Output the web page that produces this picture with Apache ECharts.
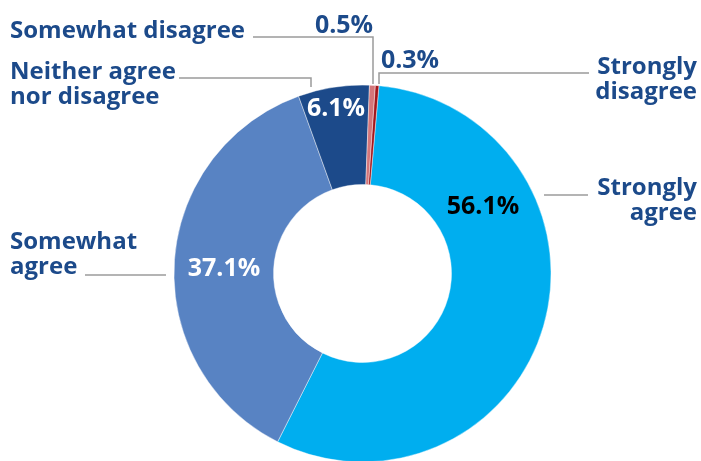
<!DOCTYPE html>
<html>
<head>
<meta charset="utf-8">
<script src="https://cdn.jsdelivr.net/npm/echarts@6/dist/echarts.min.js"></script>
<style>
  html, body { margin: 0; padding: 0; background: #fff; }
  #chart { width: 701px; height: 461px; }
</style>
</head>
<body>
<div id="chart"></div>
<script>
// Survey responses, in clockwise drawing order
const categories = ['Strongly agree', 'Somewhat agree', 'Neither agree nor disagree', 'Somewhat disagree', 'Strongly disagree'];
const displayNames = ['Strongly\nagree', 'Somewhat\nagree', 'Neither agree\nnor disagree', 'Somewhat disagree', 'Strongly\ndisagree'];
const percentages = [56.1, 37.1, 6.1, 0.5, 0.3];
const sliceColors = ['#00AEEF', '#5883C3', '#1C4A8A', '#D4767A', '#A3151B'];
const valueLabelColors = ['#000000', '#ffffff', '#ffffff', '#1C4A8A', '#1C4A8A'];

const FONT = '"Open Sans", "Noto Sans", sans-serif';
const TEXT_BLUE = '#1C4A8A';
const LINE_GREY = '#9b9b9b';
const CENTER = [362.5, 273.5];
const RADIUS = [89, 188.5];

// Placement of the percentage labels
const valueLabelPos = [
  { x: 483, y: 207, align: 'center' },
  { x: 224, y: 269, align: 'center' },
  { x: 336, y: 109, align: 'center' },
  { x: 344, y: 26, align: 'center' },
  { x: 410, y: 61, align: 'center' }
];

// Placement of the category labels and their leader lines
const nameLabelPos = [
  { x: 697, y: 201, align: 'right', line: [[544, 195], [588, 195]] },
  { x: 10, y: 255, align: 'left', line: [[166, 275], [85, 275]] },
  { x: 10, y: 85, align: 'left', line: [[311, 87], [311, 78], [179, 78]] },
  { x: 10, y: 31, align: 'left', line: [[373, 84], [373, 37], [253, 37]] },
  { x: 697, y: 80, align: 'right', line: [[379, 84], [379, 73], [589, 73]] }
];

const chart = echarts.init(document.getElementById('chart'), null, { renderer: 'canvas' });

const sliceData = categories.map((name, i) => ({
  name: name,
  value: percentages[i],
  itemStyle: { color: sliceColors[i] },
  label: { color: valueLabelColors[i] }
}));

const nameData = categories.map((name, i) => ({
  name: displayNames[i],
  value: percentages[i]
}));

chart.setOption({
  animation: false,
  backgroundColor: '#ffffff',
  series: [
    {
      type: 'pie',
      center: CENTER,
      radius: RADIUS,
      startAngle: 85,
      clockwise: true,
      avoidLabelOverlap: false,
      silent: true,
      itemStyle: { borderColor: 'rgba(255,255,255,0.7)', borderWidth: 0.6 },
      label: {
        show: true,
        position: 'inside',
        formatter: p => p.value.toFixed(1) + '%',
        fontFamily: FONT,
        fontWeight: 700,
        fontSize: 25
      },
      labelLine: { show: false },
      labelLayout: params => {
        const p = valueLabelPos[params.dataIndex];
        return { x: p.x, y: p.y, align: p.align, verticalAlign: 'middle' };
      },
      data: sliceData,
      z: 2
    },
    {
      type: 'pie',
      center: CENTER,
      radius: RADIUS,
      startAngle: 85,
      clockwise: true,
      avoidLabelOverlap: false,
      silent: true,
      itemStyle: { color: 'rgba(0,0,0,0)' },
      label: {
        show: true,
        position: 'outside',
        formatter: p => p.name,
        color: TEXT_BLUE,
        fontFamily: FONT,
        fontWeight: 700,
        fontSize: 24,
        lineHeight: 25
      },
      labelLine: {
        show: true,
        lineStyle: { color: LINE_GREY, width: 1.5 }
      },
      labelLayout: params => {
        const p = nameLabelPos[params.dataIndex];
        return {
          x: p.x, y: p.y, align: p.align, verticalAlign: 'middle',
          labelLinePoints: p.line
        };
      },
      data: nameData,
      z: 1
    }
  ]
});
</script>
</body>
</html>
